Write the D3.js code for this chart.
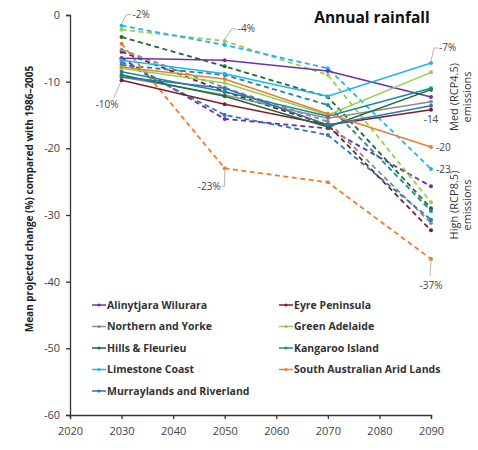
<!DOCTYPE html>
<html>
<head>
<meta charset="utf-8">
<script src="https://cdn.jsdelivr.net/npm/d3@7"></script>
<style>
  body { margin: 0; background: #fff; }
  text { font-family: "Open Sans", "Liberation Sans", sans-serif; }
</style>
</head>
<body>
<div id="chart"></div>
<script>
// Data
const years = [2030, 2050, 2070, 2090];
const regions = ["Alinytjara Wilurara", "Eyre Peninsula", "Northern and Yorke", "Green Adelaide",
  "Hills & Fleurieu", "Kangaroo Island", "Limestone Coast", "South Australian Arid Lands", "Murraylands and Riverland"];
const regionColors = ["#7030a0", "#7b1e2a", "#8c8c8c", "#92d050", "#1e6b2e", "#17899a", "#1fb4ef", "#ed7d31", "#2e75b6"];
// Medium (RCP4.5) emissions - solid lines
const medValues = [
  [-6.5, -6.8, -8.4, -12.3],
  [-9.8, -13.4, -16.5, -14.2],
  [-9.3, -12.0, -15.5, -13.0],
  [-8.0, -10.2, -15.0, -8.6],
  [-9.0, -12.2, -16.8, -11.2],
  [-8.5, -11.5, -15.2, -11.0],
  [-6.8, -8.8, -12.2, -7.2],
  [-7.8, -9.6, -14.8, -19.8],
  [-9.3, -11.0, -16.5, -13.6]
];
// High (RCP8.5) emissions - dashed lines
const highValues = [
  [-6.5, -15.6, -17.0, -25.7],
  [-5.5, -11.5, -16.5, -32.3],
  [-5.2, -10.9, -16.0, -31.2],
  [-2.2, -3.9, -9.0, -28.1],
  [-3.3, -7.7, -12.3, -29.0],
  [-7.5, -9.0, -13.5, -29.4],
  [-1.6, -4.5, -8.0, -23.1],
  [-4.3, -23.0, -25.1, -36.6],
  [-7.0, -15.0, -18.0, -30.7]
];
const xTicks = [2020, 2030, 2040, 2050, 2060, 2070, 2080, 2090];
const yTicks = [0, -10, -20, -30, -40, -50, -60];

const width = 478, height = 450;
const margin = { top: 15, right: 47, bottom: 35, left: 70 };

const svg = d3.select("#chart").append("svg")
  .attr("width", width).attr("height", height);

const x = d3.scaleLinear().domain([2020, 2090]).range([margin.left, width - margin.right]);
const y = d3.scaleLinear().domain([0, -60]).range([margin.top, height - margin.bottom]);

// Axes (plain hyphen minus like the original)
const yAxis = svg.append("g")
  .attr("transform", `translate(${margin.left},0)`)
  .call(d3.axisLeft(y).tickValues(yTicks).tickSize(4).tickPadding(6).tickFormat(d => String(d)));
const xAxis = svg.append("g")
  .attr("transform", `translate(0,${y(-60)})`)
  .call(d3.axisBottom(x).tickValues(xTicks).tickSize(4).tickPadding(8).tickFormat(d => String(d)));
[yAxis, xAxis].forEach(a => {
  a.select(".domain").attr("stroke", "#333").attr("stroke-width", 1.3);
  a.selectAll(".tick line").attr("stroke", "#333").attr("stroke-width", 1.3);
  a.selectAll(".tick text").attr("fill", "#444").style("font-size", "11px")
    .style("font-family", "'Open Sans', sans-serif");
});

// Y axis title
svg.append("text")
  .attr("transform", `translate(33,199) rotate(-90)`)
  .attr("text-anchor", "middle")
  .style("font-size", "10px").style("font-weight", "bold").attr("fill", "#222")
  .text("Mean projected change (%) compared with 1986–2005");

// Chart title
svg.append("text")
  .attr("x", 372).attr("y", 23)
  .attr("text-anchor", "middle")
  .style("font-size", "15.5px").style("font-weight", "bold").attr("fill", "#111")
  .text("Annual rainfall");

const line = d3.line().x((d, i) => x(years[i])).y(d => y(d));

// Dashed (high) lines first, then solid on top
function drawSeries(values, dashed) {
  const g = svg.append("g");
  values.forEach((vals, r) => {
    g.append("path")
      .attr("d", line(vals))
      .attr("fill", "none")
      .attr("stroke", regionColors[r])
      .attr("stroke-width", dashed ? 1.8 : 1.5)
      .attr("stroke-dasharray", dashed ? "5,3.5" : null);
    g.selectAll(null)
      .data(vals)
      .join("circle")
      .attr("cx", (d, i) => x(years[i]))
      .attr("cy", d => y(d))
      .attr("r", 2)
      .attr("fill", regionColors[r]);
  });
}
drawSeries(highValues, true);
drawSeries(medValues, false);

// Callout labels with leader lines
const ann = svg.append("g").attr("fill", "#444").style("font-size", "10px");
function callout(px, py, path, tx, ty, label, anchor) {
  svg.append("path").attr("d", path(px, py)).attr("fill", "none")
    .attr("stroke", "#aaa").attr("stroke-width", 0.9);
  ann.append("text").attr("x", tx).attr("y", ty).attr("text-anchor", anchor || "start").text(label);
}
const p2030 = x(2030), p2050 = x(2050), p2090 = x(2090);
callout(p2030, y(highValues[6][0]), (a, b) => `M${a},${b - 2}L${a + 5},${b - 11}L${a + 10},${b - 11}`,
  p2030 + 11, y(highValues[6][0]) - 8, "-2%");
callout(p2030, y(medValues[1][0]), (a, b) => `M${a - 1},${b + 2}L${a - 8},${b + 18}`,
  p2030 - 3, y(medValues[1][0]) + 28, "-10%", "end");
callout(p2050, y(highValues[3][1]), (a, b) => `M${a},${b - 2}L${a + 7},${b - 12}L${a + 12},${b - 12}`,
  p2050 + 13, y(highValues[3][1]) - 9, "-4%");
callout(p2050, y(highValues[7][1]), (a, b) => `M${a},${b + 2}L${a},${b + 18}L${a - 3},${b + 18}`,
  p2050 - 4, y(highValues[7][1]) + 22, "-23%", "end");
callout(p2090, y(medValues[6][3]), (a, b) => `M${a},${b - 2}L${a + 3},${b - 15}L${a + 7},${b - 15}`,
  p2090 + 8, y(medValues[6][3]) - 12, "-7%");
callout(p2090, y(highValues[7][3]), (a, b) => `M${a},${b + 2}L${a - 1},${b + 17}`,
  p2090, y(highValues[7][3]) + 30, "-37%", "middle");
ann.append("text").attr("x", p2090).attr("y", y(medValues[1][3]) + 13).attr("text-anchor", "middle").text("-14");
ann.append("text").attr("x", p2090 + 5).attr("y", y(medValues[7][3]) + 4).text("-20");
ann.append("text").attr("x", p2090 + 5).attr("y", y(highValues[6][3]) + 4).text("-23");

// Scenario side labels
function sideLabel(cy, lines) {
  lines.forEach((t, i) => {
    svg.append("text")
      .attr("transform", `translate(${458 + i * 13},${cy}) rotate(-90)`)
      .attr("text-anchor", "middle")
      .style("font-size", "11px").attr("fill", "#333")
      .text(t);
  });
}
sideLabel(97, ["Med (RCP4.5)", "emissions"]);
sideLabel(205, ["High (RCP8.5)", "emissions"]);

// Legend (two columns)
const legendCols = [92, 279];
const legend = svg.append("g");
regions.forEach((name, i) => {
  const col = i % 2, row = Math.floor(i / 2);
  const lx = legendCols[col], ly = 305 + row * 21.5;
  const item = legend.append("g").attr("transform", `translate(${lx},${ly})`);
  item.append("line").attr("x1", 0).attr("x2", 14).attr("y1", 0).attr("y2", 0)
    .attr("stroke", regionColors[i]).attr("stroke-width", 1.5);
  item.append("circle").attr("cx", 7).attr("cy", 0).attr("r", 1.6).attr("fill", regionColors[i]);
  item.append("text").attr("x", 15).attr("y", 0).attr("dy", "0.35em")
    .style("font-size", "10.5px").style("font-weight", "bold").attr("fill", "#333")
    .text(name);
});
</script>
</body>
</html>
